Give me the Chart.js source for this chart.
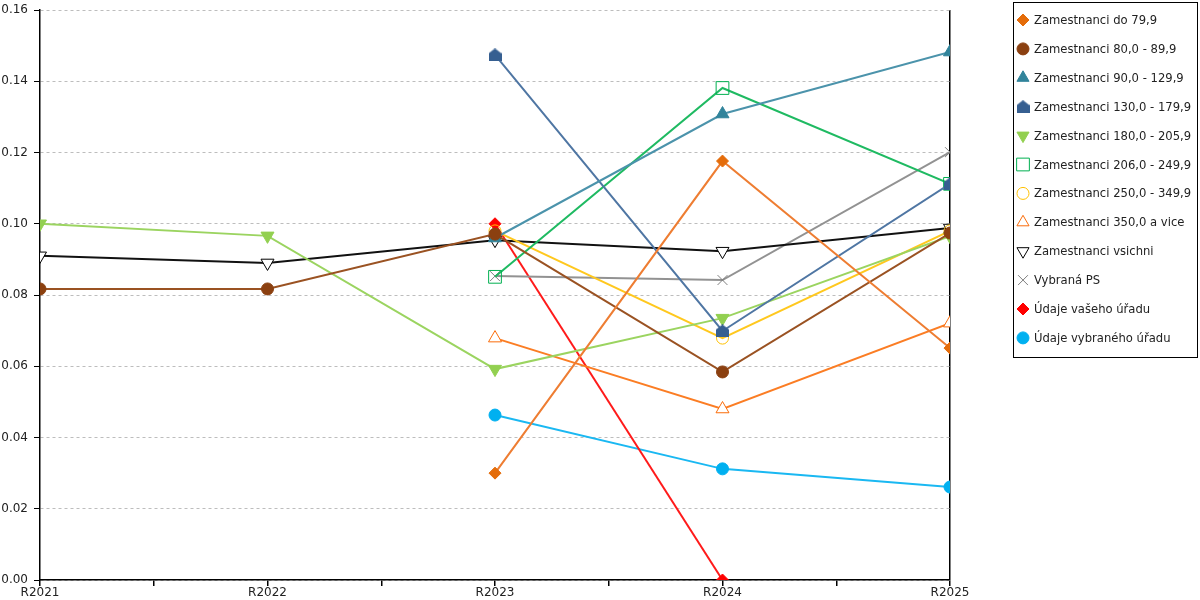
<!DOCTYPE html>
<html>
<head>
<meta charset="utf-8">
<script src="https://cdn.jsdelivr.net/npm/chart.js@4/dist/chart.umd.min.js"></script>
<style>
  body { margin: 0; background: #fff; }
  #wrap { width: 1200px; height: 600px; position: relative; }
</style>
</head>
<body>
<div id="wrap"><canvas id="c"></canvas></div>
<script>
const years = ['R2021', 'R2022', 'R2023', 'R2024', 'R2025'];
const yTicks = [0, 0.02, 0.04, 0.06, 0.08, 0.10, 0.12, 0.14, 0.16];

const do79 = [null, null, 0.0300, 0.1176, 0.0651];
const z80 = [0.0817, 0.0817, 0.0971, 0.0584, 0.0974];
const z90 = [null, null, 0.0960, 0.1308, 0.1482];
const z130 = [null, null, 0.1474, 0.0699, 0.1112];
const z180 = [0.1000, 0.0966, 0.0592, 0.0735, 0.0965];
const z206 = [null, null, 0.0851, 0.1381, 0.1112];
const z250 = [null, null, 0.0980, 0.0679, 0.0980];
const z350 = [null, null, 0.0679, 0.0480, 0.0721];
const vsichni = [0.0910, 0.0890, 0.0954, 0.0923, 0.0988];
const vybranaPS = [null, null, 0.0853, 0.0842, 0.1201];
const vasehoUradu = [null, null, 0.1000, 0.0000, null];
const vybranehoUradu = [null, null, 0.0463, 0.0312, 0.0261];

const FONT = '"DejaVu Sans", Verdana, sans-serif';

// house shaped marker (130,0 - 179,9)
const house = document.createElement('canvas');
house.width = 13; house.height = 13;
(function () {
    const g = house.getContext('2d');
    g.fillStyle = '#365f91';
    g.beginPath();
    g.moveTo(6.5, 0);
    g.lineTo(13, 5);
    g.lineTo(13, 13);
    g.lineTo(0, 13);
    g.lineTo(0, 5);
    g.closePath();
    g.fill();
})();

function series(label, values, line, fill, stroke, style, radius, rotation) {
    return {
        label: label,
        data: values.map((v, i) => ({x: i, y: v})),
        borderColor: line,
        borderWidth: 2,
        pointStyle: style,
        pointRadius: radius,
        pointRotation: rotation || 0,
        pointBackgroundColor: fill,
        pointBorderColor: stroke,
        pointBorderWidth: 1,
        tension: 0
    };
}

const datasets = [
    series('Zamestnanci do 79,9', do79, '#ee7d32', '#e46c0a', '#e46c0a', 'rectRot', 6),
    series('Zamestnanci 80,0 - 89,9', z80, '#9a5222', '#8b4010', '#8b4010', 'circle', 6),
    series('Zamestnanci 90,0 - 129,9', z90, '#4b93ab', '#31849b', '#31849b', 'triangle', 7.5),
    series('Zamestnanci 130,0 - 179,9', z130, '#4f76a3', '#365f91', '#365f91', house, 6),
    series('Zamestnanci 180,0 - 205,9', z180, '#9bd460', '#92d050', '#92d050', 'triangle', 7.5, 180),
    series('Zamestnanci 206,0 - 249,9', z206, '#1fba62', 'rgba(0,0,0,0)', '#00b050', 'rect', 9),
    series('Zamestnanci 250,0 - 349,9', z250, '#ffc81e', 'rgba(0,0,0,0)', '#ffc000', 'circle', 6),
    series('Zamestnanci 350,0 a vice', z350, '#fb7d24', '#ffffff', '#fa6c0a', 'triangle', 7.5),
    series('Zamestnanci vsichni', vsichni, '#111111', '#ffffff', '#000000', 'triangle', 7.5, 180),
    series('Vybraná PS', vybranaPS, '#929292', 'rgba(0,0,0,0)', '#7f7f7f', 'crossRot', 7),
    series('Údaje vašeho úřadu', vasehoUradu, '#ff1a1a', '#ff0000', '#ff0000', 'rectRot', 6),
    series('Údaje vybraného úřadu', vybranehoUradu, '#1ab8f2', '#00b0f0', '#00b0f0', 'circle', 6)
];

// legend box drawn to the right of the plot
const boxLegend = {
    id: 'boxLegend',
    afterDraw(chart) {
        const ctx = chart.ctx;
        const x0 = 1013, y0 = 2, w = 184, h = 355;
        ctx.save();
        ctx.strokeStyle = '#000';
        ctx.lineWidth = 1;
        ctx.strokeRect(x0 + 0.5, y0 + 0.5, w, h);
        ctx.font = '11.6px ' + FONT;
        ctx.textBaseline = 'middle';
        chart.data.datasets.forEach((ds, i) => {
            const y = 20 + i * 28.9;
            ctx.fillStyle = ds.pointBackgroundColor;
            ctx.strokeStyle = ds.pointBorderColor;
            ctx.lineWidth = 1;
            const r = ds.pointStyle === 'rect' ? 9 : ds.pointStyle === 'triangle' ? 7 : ds.pointStyle === 'crossRot' ? 7 : 6;
            Chart.helpers.drawPoint(ctx, {
                pointStyle: ds.pointStyle,
                rotation: ds.pointRotation,
                radius: r,
                borderWidth: 1
            }, 1023, y);
            ctx.fillStyle = '#222';
            ctx.fillText(ds.label, 1034, y + 1);
        });
        ctx.restore();
    }
};

new Chart(document.getElementById('c'), {
    type: 'line',
    data: {datasets: datasets},
    options: {
        responsive: true,
        maintainAspectRatio: false,
        animation: false,
        layout: {padding: {left: 0, top: 10, right: 250, bottom: 0}},
        plugins: {
            legend: {display: false},
            tooltip: {enabled: false}
        },
        scales: {
            x: {
                type: 'linear',
                min: 0,
                max: years.length - 1,
                afterBuildTicks: s => {
                    s.ticks = [];
                    for (let v = 0; v <= years.length - 1; v += 0.5) s.ticks.push({value: v});
                },
                afterFit: s => { s.height = 20; },
                ticks: {
                    autoSkip: false,
                    maxRotation: 0,
                    padding: 0,
                    color: '#222',
                    font: {family: FONT, size: 12},
                    callback: v => Number.isInteger(v) ? years[v] : ''
                },
                grid: {
                    color: c => c.tick && c.tick.value === years.length - 1 ? '#000' : 'rgba(0,0,0,0)',
                    lineWidth: 1.5,
                    tickColor: '#000',
                    tickLength: 6
                },
                border: {color: '#000', width: 1.5}
            },
            y: {
                min: 0,
                max: 0.16,
                afterBuildTicks: s => { s.ticks = yTicks.map(v => ({value: v})); },
                afterFit: s => { s.width = 40; s.paddingTop = 0; s.paddingBottom = 0; },
                ticks: {
                    padding: 6,
                    color: '#222',
                    font: {family: FONT, size: 12},
                    callback: v => v.toFixed(2)
                },
                grid: {
                    color: '#bdbdbd',
                    lineWidth: 1,
                    tickColor: '#000',
                    tickLength: 6,
                    tickBorderDash: []
                },
                border: {color: '#000', width: 1.5, dash: [3, 3]}
            }
        }
    },
    plugins: [boxLegend]
});
</script>
</body>
</html>
